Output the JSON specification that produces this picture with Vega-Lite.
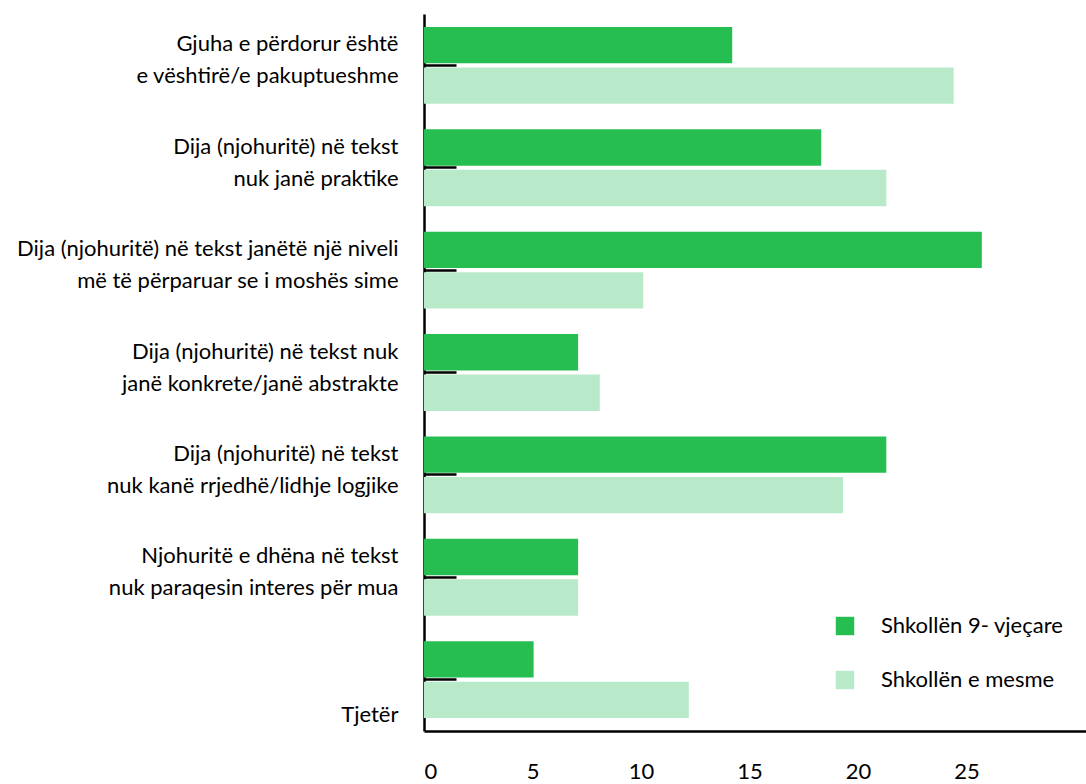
{
  "$schema": "https://vega.github.io/schema/vega-lite/v6.json",
  "autosize": "none",
  "padding": {"left": 424, "top": 14, "right": 0, "bottom": 53},
  "width": 662,
  "height": 717,
  "background": "white",
  "config": {"view": {"stroke": null}, "font": "Lato"},
  "data": {
    "values": [
      {"cat": "Gjuha e përdorur është|e vështirë/e pakuptueshme", "grp": "Shkollën 9- vjeçare", "v": 14.2},
      {"cat": "Gjuha e përdorur është|e vështirë/e pakuptueshme", "grp": "Shkollën e mesme", "v": 24.4},
      {"cat": "Dija (njohuritë) në tekst|nuk janë praktike", "grp": "Shkollën 9- vjeçare", "v": 18.3},
      {"cat": "Dija (njohuritë) në tekst|nuk janë praktike", "grp": "Shkollën e mesme", "v": 21.3},
      {"cat": "Dija (njohuritë) në tekst janëtë një niveli|më të përparuar se i moshës sime", "grp": "Shkollën 9- vjeçare", "v": 25.7},
      {"cat": "Dija (njohuritë) në tekst janëtë një niveli|më të përparuar se i moshës sime", "grp": "Shkollën e mesme", "v": 10.1},
      {"cat": "Dija (njohuritë) në tekst nuk|janë konkrete/janë abstrakte", "grp": "Shkollën 9- vjeçare", "v": 7.1},
      {"cat": "Dija (njohuritë) në tekst nuk|janë konkrete/janë abstrakte", "grp": "Shkollën e mesme", "v": 8.1},
      {"cat": "Dija (njohuritë) në tekst|nuk kanë rrjedhë/lidhje logjike", "grp": "Shkollën 9- vjeçare", "v": 21.3},
      {"cat": "Dija (njohuritë) në tekst|nuk kanë rrjedhë/lidhje logjike", "grp": "Shkollën e mesme", "v": 19.3},
      {"cat": "Njohuritë e dhëna në tekst|nuk paraqesin interes për mua", "grp": "Shkollën 9- vjeçare", "v": 7.1},
      {"cat": "Njohuritë e dhëna në tekst|nuk paraqesin interes për mua", "grp": "Shkollën e mesme", "v": 7.1},
      {"cat": "Tjetër", "grp": "Shkollën 9- vjeçare", "v": 5.05},
      {"cat": "Tjetër", "grp": "Shkollën e mesme", "v": 12.2}
    ]
  },
  "mark": {"type": "bar"},
  "encoding": {
    "y": {
      "field": "cat",
      "type": "nominal",
      "sort": null,
      "scale": {"paddingInner": 0.25, "paddingOuter": 0.127},
      "axis": {
        "title": null,
        "labelExpr": "split(datum.value, '|')",
        "labelFontSize": 22,
        "labelColor": "black",
        "labelLineHeight": 32,
        "labelPadding": 58,
        "labelOffset": {"condition": {"test": "datum.value == 'Tjetër'", "value": 35}, "value": -21},
        "labelLimit": 450,
        "tickSize": -32,
        "tickWidth": 2.5,
        "tickColor": "black",
        "domainColor": "black",
        "domainWidth": 2.5
      }
    },
    "yOffset": {
      "field": "grp",
      "type": "nominal",
      "sort": null,
      "scale": {"paddingInner": 0.1}
    },
    "x": {
      "field": "v",
      "type": "quantitative",
      "scale": {"domain": [0, 30.5], "nice": false},
      "axis": {
        "title": null,
        "values": [0, 5, 10, 15, 20, 25],
        "ticks": false,
        "grid": false,
        "labelFontSize": 22,
        "labelColor": "black",
        "labelPadding": 30,
        "domainColor": "black",
        "domainWidth": 2.5
      }
    },
    "color": {
      "field": "grp",
      "type": "nominal",
      "sort": null,
      "scale": {"range": ["#26BE50", "#B8EAC9"]},
      "legend": {
        "title": null,
        "orient": "none",
        "legendX": 410,
        "legendY": 601,
        "symbolType": "square",
        "symbolSize": 340,
        "symbolStrokeWidth": 0,
        "labelFontSize": 22,
        "labelColor": "black",
        "labelOffset": 25,
        "labelLimit": 300,
        "rowPadding": 32
      }
    }
  }
}
